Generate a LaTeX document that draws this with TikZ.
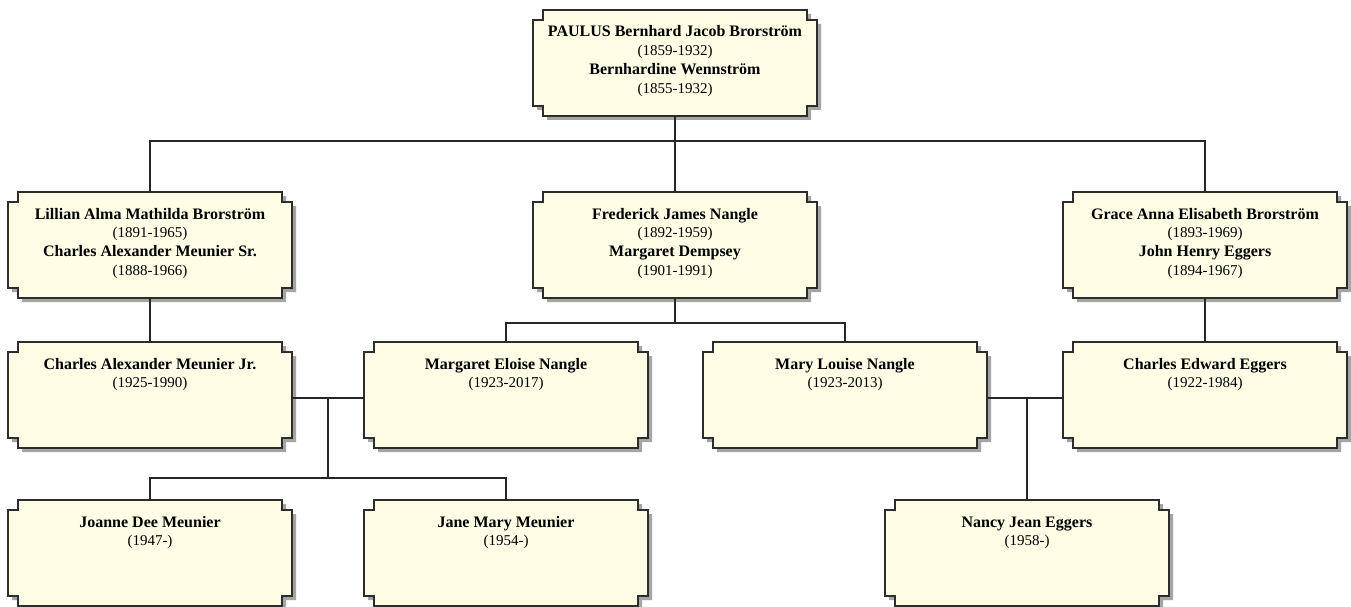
\documentclass[tikz,border=0pt]{standalone}
\usepackage{fontspec}
\setmainfont{Liberation Serif}
\definecolor{boxfill}{RGB}{255,253,230}
\definecolor{boxline}{RGB}{45,45,45}
\definecolor{shadowc}{RGB}{165,165,165}
\tikzset{
  boxborder/.style={draw=boxline, line width=1.4pt, fill=boxfill},
  boxshadow/.style={fill=shadowc},
  persontext/.style={inner sep=0pt, minimum width=284pt, minimum height=106pt, rectangle},
  conn/.style={draw=black!85, line width=1.2pt},
}
\newcommand\nm[1]{{\fontsize{16}{18.7}\selectfont\textbf{#1}}}
% #1 node name, #2 left x, #3 top y, #4 text
\newcommand\personbox[4]{%
  \fill[boxshadow, shift={(4,4)}] (#2+10,#3) -- (#2+274,#3) -- (#2+274,#3+10) -- (#2+284,#3+10) -- (#2+284,#3+96) -- (#2+274,#3+96) -- (#2+274,#3+106) -- (#2+10,#3+106) -- (#2+10,#3+96) -- (#2,#3+96) -- (#2,#3+10) -- (#2+10,#3+10) -- cycle;
  \path[boxborder] (#2+10,#3) -- (#2+274,#3) -- (#2+274,#3+10) -- (#2+284,#3+10) -- (#2+284,#3+96) -- (#2+274,#3+96) -- (#2+274,#3+106) -- (#2+10,#3+106) -- (#2+10,#3+96) -- (#2,#3+96) -- (#2,#3+10) -- (#2+10,#3+10) -- cycle;
  \node[persontext] (#1) at (#2+142,#3+53) {\parbox[c][106pt][t]{284pt}{\centering\fontsize{15}{18.7}\selectfont\rule{0pt}{27pt}#4}};%
}
\begin{document}
\begin{tikzpicture}[x=1pt, y=-1pt]
\fill[white] (0,0) rectangle (1351,607);
\useasboundingbox (0,0) rectangle (1351,607);

\coordinate (j1) at (675,141);
\coordinate (j2) at (675,323);
\coordinate (m1) at (328,398);
\coordinate (c1) at (328,478);
\coordinate (m2) at (1027,398);

% boxes
\personbox{top}{533}{10}{\nm{PAULUS Bernhard Jacob Brorström}\\(1859-1932)\\\nm{Bernhardine Wennström}\\(1855-1932)}
\personbox{lil}{8}{192}{\nm{Lillian Alma Mathilda Brorström}\\(1891-1965)\\\nm{Charles Alexander Meunier Sr.}\\(1888-1966)}
\personbox{fred}{533}{192}{\nm{Frederick James Nangle}\\(1892-1959)\\\nm{Margaret Dempsey}\\(1901-1991)}
\personbox{grace}{1063}{192}{\nm{Grace Anna Elisabeth Brorström}\\(1893-1969)\\\nm{John Henry Eggers}\\(1894-1967)}
\personbox{cj}{8}{342}{\nm{Charles Alexander Meunier Jr.}\\(1925-1990)}
\personbox{me}{364}{342}{\nm{Margaret Eloise Nangle}\\(1923-2017)}
\personbox{ml}{703}{342}{\nm{Mary Louise Nangle}\\(1923-2013)}
\personbox{ce}{1063}{342}{\nm{Charles Edward Eggers}\\(1922-1984)}
\personbox{jo}{8}{500}{\nm{Joanne Dee Meunier}\\(1947-)}
\personbox{ja}{364}{500}{\nm{Jane Mary Meunier}\\(1954-)}
\personbox{na}{885}{500}{\nm{Nancy Jean Eggers}\\(1958-)}

% connectors
\draw[conn] (top.south) -- (j1);
\draw[conn] (lil.north) |- (j1);
\draw[conn] (grace.north) |- (j1);
\draw[conn] (fred.north) -- (j1);
\draw[conn] (lil.south) -- (cj.north);
\draw[conn] (grace.south) -- (ce.north);
\draw[conn] (fred.south) -- (j2);
\draw[conn] (me.north) |- (j2);
\draw[conn] (ml.north) |- (j2);
\draw[conn] (cj.east |- m1) -- (me.west |- m1);
\draw[conn] (m1) -- (c1);
\draw[conn] (jo.north) |- (c1);
\draw[conn] (ja.north) |- (c1);
\draw[conn] (ml.east |- m2) -- (ce.west |- m2);
\draw[conn] (m2) -- (na.north);
\end{tikzpicture}
\end{document}
